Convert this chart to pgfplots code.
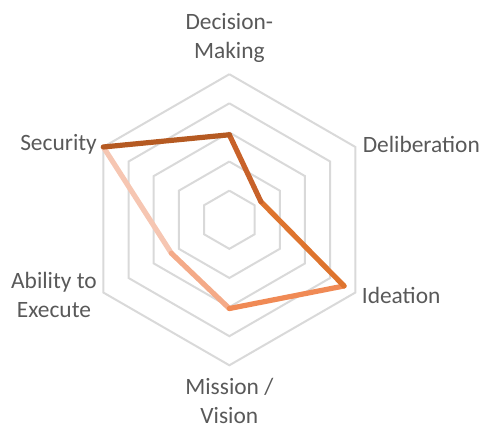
\documentclass[border=0pt]{standalone}
\usepackage{fontspec}
\setmainfont{Carlito}
\usepackage{pgfplots}
\pgfplotsset{compat=1.18}

\definecolor{gridgray}{HTML}{D9D9D9}
\definecolor{labgray}{HTML}{595959}
\definecolor{segA}{HTML}{B55A22}
\definecolor{segB}{HTML}{C8622A}
\definecolor{segC}{HTML}{DE742E}
\definecolor{segD}{HTML}{F08A55}
\definecolor{segE}{HTML}{F4AA88}
\definecolor{segF}{HTML}{F6C6B2}

% angle (deg), value
% Decision-Making 90, Deliberation 30, Ideation -30,
% Mission / Vision -90, Ability to Execute -150, Security 150

\begin{document}
\begin{tikzpicture}
\begin{axis}[
    x=14.55pt, y=14.55pt,
    xmin=-7.88, xmax=8.68, ymin=-6.99, ymax=7.55,
    hide axis, clip=false,
]
% hexagonal grid
\pgfplotsinvokeforeach{1,...,5}{
  \addplot[gridgray, line width=1pt, data cs=polar] coordinates
    {(90,#1) (30,#1) (-30,#1) (-90,#1) (-150,#1) (150,#1) (90,#1)};
}

% data line, light segments first
\addplot[segF, line width=2.6pt, line cap=round, data cs=polar] coordinates {(-150,2.3) (150,5)};
\addplot[segE, line width=2.6pt, line cap=round, data cs=polar] coordinates {(-90,3.05) (-150,2.3)};
\addplot[segD, line width=2.6pt, line cap=round, data cs=polar] coordinates {(-30,4.55) (-90,3.05)};
\addplot[segC, line width=2.6pt, line cap=round, data cs=polar] coordinates {(30,1.25) (-30,4.55)};
\addplot[segB, line width=2.6pt, line cap=round, data cs=polar] coordinates {(90,2.92) (30,1.25)};
\addplot[segA, line width=2.6pt, line cap=round, data cs=polar] coordinates {(150,5) (90,2.92)};

\tikzset{lab/.style={text=labgray, inner sep=0pt, align=center,
  font=\fontsize{11.7}{14.5}\selectfont}}
\node[lab] at (axis cs:0,6.25) {Decision-\\Making};
\node[lab, anchor=west] at (axis cs:4.57,2.59) {Deliberation};
\node[lab, anchor=west] at (axis cs:4.54,-2.59) {Ideation};
\node[lab] at (axis cs:0,-6.24) {Mission /\\Vision};
\node[lab, anchor=east] at (axis cs:-4.54,-2.59) {Ability to\\Execute};
\node[lab, anchor=east] at (axis cs:-4.54,2.59) {Security};

\coordinate (ll) at (axis cs:-7.88,-6.99);
\coordinate (ur) at (axis cs:8.68,7.55);
\end{axis}
\pgfresetboundingbox
\useasboundingbox (ll) rectangle (ur);
\end{tikzpicture}
\end{document}
